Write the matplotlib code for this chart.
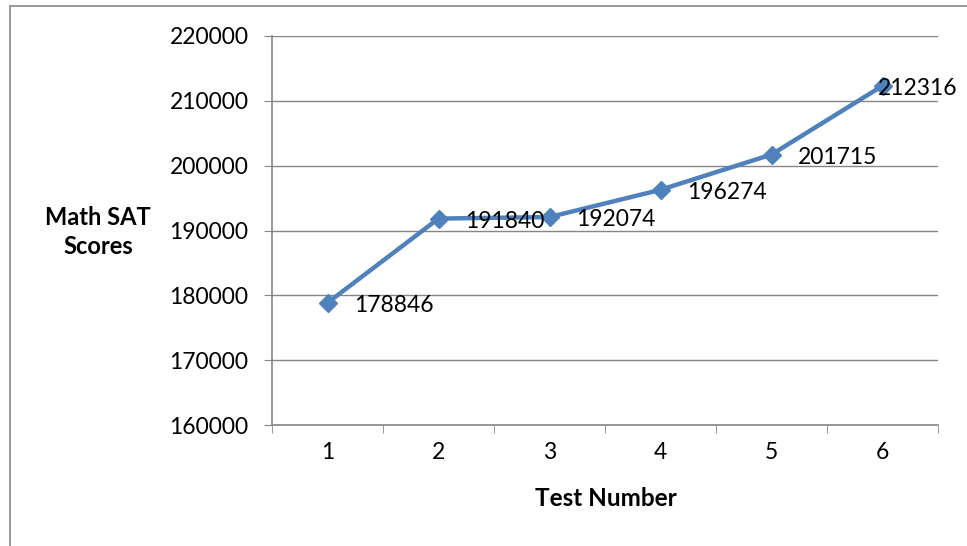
import numpy as np
import matplotlib.pyplot as plt
from matplotlib.patches import Rectangle

plt.rcParams['font.family'] = ['Lato', 'DejaVu Sans']

# Math SAT scores per test
tests = [1, 2, 3, 4, 5, 6]
scores = [178846, 191840, 192074, 196274, 201715, 212316]
yticks = [160000, 170000, 180000, 190000, 200000, 210000, 220000]

grey = '#868686'
blue = '#4F81BD'

fig = plt.figure(figsize=(9.67, 5.46), dpi=100)
ax = fig.add_axes([272/967, 1 - 425/546, 666/967, 389/546])

# outer chart frame, runs off the right and bottom edges
fig.patches.append(Rectangle((9.5/967, -0.05), 1.2, 1 - 6.5/546 + 0.05,
                             transform=fig.transFigure, fill=False,
                             edgecolor=grey, lw=1.2))

ax.plot(tests, scores, color=blue, lw=3.2, marker='D', markersize=9.5,
        markeredgecolor=blue, zorder=3, clip_on=False)

for i, (x, y) in enumerate(zip(tests, scores)):
    dx = 19 if i < len(tests) - 1 else -3
    ax.annotate(str(y), (x, y), xytext=(dx, -2), textcoords='offset points',
                ha='left', va='center', fontsize=16.5, color='black', zorder=4)

ax.set_xlim(0.5, 6.5)
ax.set_ylim(160000, 220000)
ax.set_yticks(yticks)
ax.set_yticklabels([str(v) for v in yticks], fontsize=16.5)
ax.set_xticks(tests)
ax.set_xticklabels([str(t) for t in tests], fontsize=16.5)
ax.set_xticks(np.arange(0.5, 7, 1), minor=True)
ax.tick_params(axis='x', which='major', length=0, pad=12)
ax.tick_params(axis='x', which='minor', length=6, color=grey, direction='out')
ax.tick_params(axis='y', length=6, color=grey, direction='out', pad=11)
ax.yaxis.grid(True, color=grey, lw=1)
ax.set_axisbelow(True)

for s in ['top', 'right']:
    ax.spines[s].set_visible(False)
for s in ['left', 'bottom']:
    ax.spines[s].set_color(grey)
    ax.spines[s].set_linewidth(1.2)

fig.text(98/967, 1 - 232/546, 'Math SAT\nScores', ha='center', va='center',
         fontsize=17, fontweight='bold', linespacing=1.3)
fig.text(606/967, 1 - 499/546, 'Test Number', ha='center', va='center',
         fontsize=17.5, fontweight='bold')

fig.savefig('out.png', dpi=100)
